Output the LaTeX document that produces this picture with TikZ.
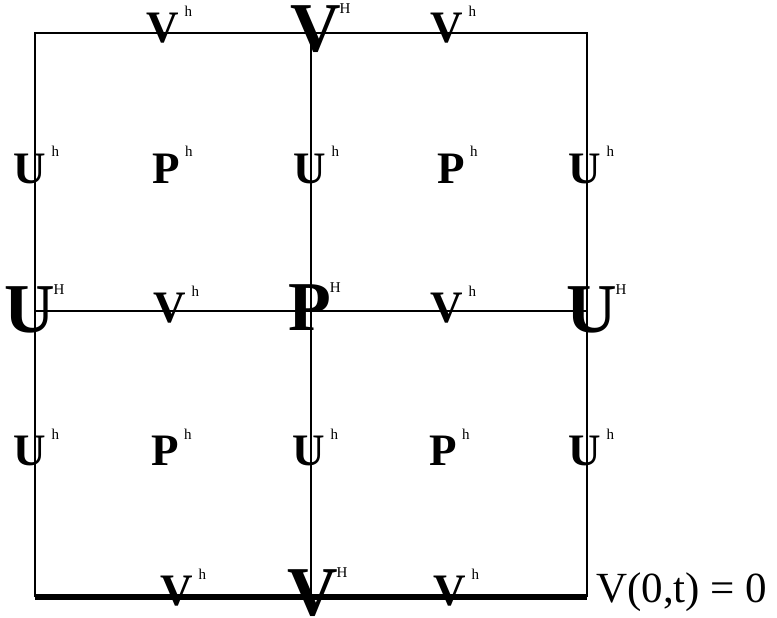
\documentclass[tikz,border=0pt]{standalone}
\usepackage{fontspec}
\setmainfont{Liberation Serif}
\usetikzlibrary{calc}
\tikzset{
  grid line/.style={line width=1.6pt, black},
  wall line/.style={line width=6pt, black},
  sml/.style={inner sep=0pt, anchor=base, font=\fontsize{45}{45}\selectfont\bfseries},
  big/.style={inner sep=0pt, anchor=base, font=\fontsize{70}{70}\selectfont\bfseries},
  smsup/.style={inner sep=0pt, anchor=base west, font=\fontsize{15}{15}\selectfont},
  bigsup/.style={inner sep=0pt, anchor=base west, font=\fontsize{15}{15}\selectfont},
  bc/.style={inner sep=0pt, anchor=base west, font=\fontsize{43}{43}\selectfont},
}
\newcommand\smlab[4]{%
  \node[sml] (#1) at (#2,#3) {#4};
  \node[smsup] (#1s) at ($(#1.base east)+(5,-26)$) {h};}
\newcommand\biglab[4]{%
  \node[big] (#1) at (#2,#3) {#4};
  \node[bigsup] (#1s) at ($(#1.base east)+(-2,-38)$) {H};}
\begin{document}
\begin{tikzpicture}[x=1pt,y=-1pt]
\useasboundingbox (0,0) rectangle (777,618);
% grid corners
\coordinate (tl) at (35,33);
\coordinate (tm) at (311,33);
\coordinate (tr) at (587,33);
\coordinate (ml) at (35,311);
\coordinate (mm) at (311,311);
\coordinate (mr) at (587,311);
\coordinate (bl) at (35,597);
\coordinate (bm) at (311,597);
\coordinate (br) at (587,597);
% grid lines
\draw[grid line] (bl) -- (tl) -- (tr) -- (br);
\draw[grid line] (tm) -- (bm);
\draw[grid line] (ml) -- (mr);
\draw[wall line] (bl) -- (br);
% top row
\smlab{vt1}{163}{43}{V}
\biglab{VT}{316}{52}{V}
\smlab{vt2}{447}{43}{V}
% row 1
\smlab{ua1}{30}{183}{U}
\smlab{pa1}{166}{183}{P}
\smlab{ua2}{310}{183}{U}
\smlab{pa2}{451}{183}{P}
\smlab{ua3}{585}{183}{U}
% middle row
\biglab{UL}{30}{332}{U}
\smlab{vm1}{170}{322}{V}
\biglab{PC}{310}{330}{P}
\smlab{vm2}{447}{322}{V}
\biglab{UR}{592}{332}{U}
% row 2
\smlab{ub1}{30}{465}{U}
\smlab{pb1}{165}{465}{P}
\smlab{ub2}{309}{465}{U}
\smlab{pb2}{443}{465}{P}
\smlab{ub3}{585}{465}{U}
% bottom row
\smlab{vb1}{177}{605}{V}
\biglab{VB}{313}{615}{V}
\smlab{vb2}{450}{605}{V}
% boundary condition
\node[bc] (bcond) at (596,602) {V(0,t) = 0};
\end{tikzpicture}
\end{document}
